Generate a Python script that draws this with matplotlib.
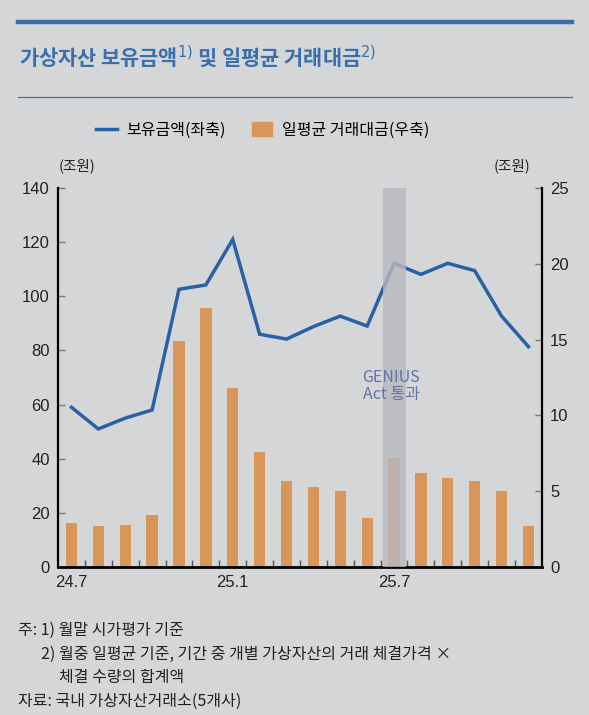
import numpy as np
import matplotlib.pyplot as plt
from matplotlib.lines import Line2D
from matplotlib.patches import Rectangle

plt.rcParams['font.family'] = ['Noto Sans CJK KR', 'DejaVu Sans']

# 월별 데이터 (24.7 ~ 25.12)
months = ['24.7', '24.8', '24.9', '24.10', '24.11', '24.12',
          '25.1', '25.2', '25.3', '25.4', '25.5', '25.6',
          '25.7', '25.8', '25.9', '25.10', '25.11', '25.12']
holding = [59, 51, 55, 58, 102.6, 104.2, 121, 86, 84.2, 88.8, 92.7, 89,
           112.2, 108.1, 112.2, 109.5, 92.7, 81.4]
trading = [2.9, 2.7, 2.8, 3.4, 14.9, 17.1, 11.8, 7.6, 5.7, 5.3, 5.0, 3.2,
           7.2, 6.2, 5.9, 5.7, 5.0, 2.7]
tick_labels = {'24.7': '24.7', '25.1': '25.1', '25.7': '25.7'}
genius_month = '25.7'

bg = '#d5d6d8'
blue = '#2961a5'
orange = '#d8965b'
title_blue = '#3a6fab'
num_font = ['Liberation Sans Narrow', 'Liberation Sans', 'DejaVu Sans']

fig = plt.figure(figsize=(5.89, 7.15), dpi=100, facecolor=bg)
ax = fig.add_axes([0.0985, 0.207, 0.8215, 0.530])
ax2 = ax.twinx()
ax.set_facecolor(bg)

x = np.arange(len(months))

# 우축: 일평균 거래대금 (막대)
ax2.bar(x, trading, width=0.42, color=orange, zorder=2)
ax2.set_ylim(0, 25)
ax2.set_yticks([0, 5, 10, 15, 20, 25])

# 좌축: 보유금액 (선) - 막대 위에 그리기
ax.set_zorder(ax2.get_zorder() + 1)
ax.patch.set_visible(False)
ax2.patch.set_visible(True)
ax2.patch.set_facecolor(bg)
ax.plot(x, holding, color=blue, lw=2.5, solid_joinstyle='miter', zorder=3)
ax.set_ylim(0, 140)
ax.set_yticks(range(0, 141, 20))
ax.set_xlim(-0.5, len(months) - 0.5)

# GENIUS Act 통과 음영
gi = months.index(genius_month)
ax.axvspan(gi - 0.42, gi + 0.45, color='#b8b9be', alpha=0.8, lw=0, zorder=4)
ax.text(gi - 0.1, 67, 'GENIUS\nAct 통과', ha='center', va='center',
        fontsize=11.5, color='#6074aa', linespacing=1.0, zorder=5)

# 축 모양
for a in (ax, ax2):
    a.spines['top'].set_visible(False)
    a.spines['left'].set_linewidth(1.6)
    a.spines['right'].set_linewidth(1.6)
    a.spines['bottom'].set_linewidth(2.0)
ax2.spines['left'].set_visible(False)
ax2.spines['bottom'].set_visible(False)
ax.spines['right'].set_visible(False)

ax.set_xticks(x[:-1] + 0.5)
ax.set_xticklabels([])
ax.set_xticks(x, minor=True)
ax.set_xticklabels([tick_labels.get(m, '') for m in months], minor=True)
ax.tick_params(axis='x', which='major', direction='in', length=5, width=1, color='#555555')
ax.tick_params(axis='x', which='minor', length=0, pad=6)
ax.tick_params(axis='y', direction='in', length=5, width=1, color='#777777', pad=6)
ax2.tick_params(axis='y', direction='in', length=5, width=1, color='#777777', pad=6)

for lab in ax.get_xticklabels(minor=True) + ax.get_yticklabels() + ax2.get_yticklabels():
    lab.set_family(num_font)
    lab.set_fontsize(12)
    lab.set_color('#222222')

# 단위
fig.text(0.099, 0.768, '(조원)', fontsize=10.5, ha='left', va='center', color='#222222')
fig.text(0.900, 0.768, '(조원)', fontsize=10.5, ha='right', va='center', color='#222222')

# 범례
handles = [Line2D([0], [0], color=blue, lw=2.5),
           Rectangle((0, 0), 1, 1, color=orange)]
fig.legend(handles, ['보유금액(좌축)', '일평균 거래대금(우축)'], loc='center',
           bbox_to_anchor=(0.446, 0.818), ncol=2, frameon=False, fontsize=11.5,
           handlelength=1.3, handleheight=0.9, columnspacing=1.6, handletextpad=0.6)

# 제목과 구분선
fig.add_artist(Line2D([0.031, 0.971], [0.969, 0.969], color=title_blue, lw=3.2))
fig.text(0.033, 0.921, '가상자산 보유금액$^{1)}$ 및 일평균 거래대금$^{2)}$',
         fontsize=15, fontweight='bold', color=title_blue, ha='left', va='center')
fig.add_artist(Line2D([0.031, 0.971], [0.865, 0.865], color='#4a6f9c', lw=0.9))

# 주석
note_kw = dict(fontsize=11.5, color='#222222', ha='left', va='center')
fig.text(0.031, 0.118, '주: 1) 월말 시가평가 기준', **note_kw)
fig.text(0.069, 0.085, '2) 월중 일평균 기준, 기간 중 개별 가상자산의 거래 체결가격 ×', **note_kw)
fig.text(0.100, 0.053, '체결 수량의 합계액', **note_kw)
fig.text(0.031, 0.019, '자료: 국내 가상자산거래소(5개사)', **note_kw)

fig.savefig('out.png', dpi=100, facecolor=bg)
